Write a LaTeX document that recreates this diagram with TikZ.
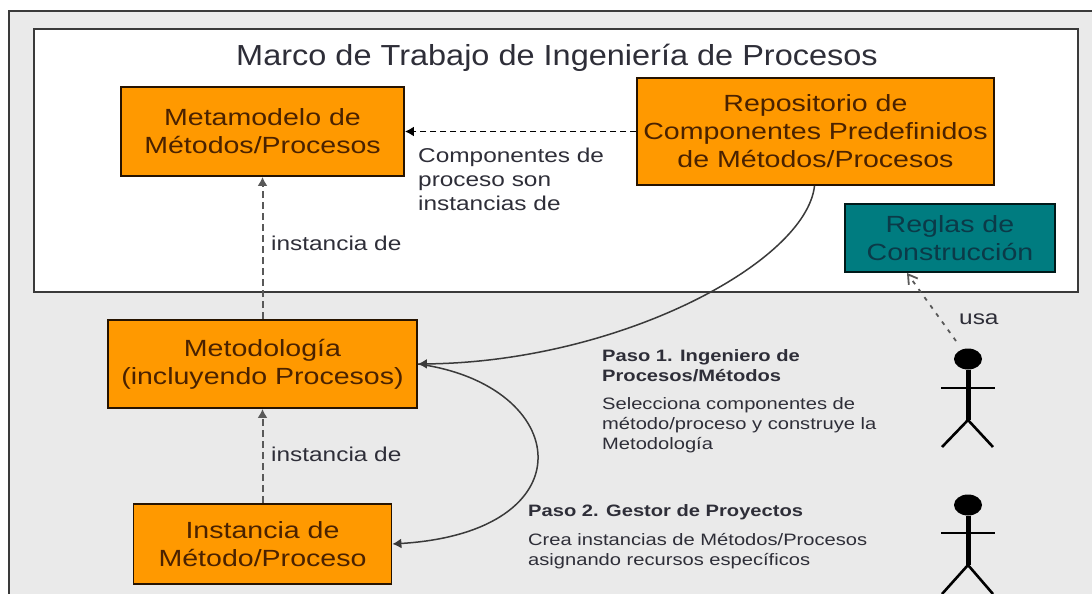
\documentclass[tikz,border=0pt]{standalone}
\usepackage{fontspec}
\setmainfont{Liberation Sans}
\newfontfamily\widefont[FakeStretch=1.22]{Liberation Sans}
\newfontfamily\titlefont[FakeStretch=1.12]{Liberation Sans}
\usetikzlibrary{arrows.meta,calc,shapes.geometric}
\definecolor{pagegray}{HTML}{EAEAEA}
\definecolor{boxorange}{HTML}{FF9900}
\definecolor{boxteal}{HTML}{007C80}
\definecolor{inkdark}{HTML}{2E2E38}
\definecolor{inkbrown}{HTML}{4A2200}
\definecolor{inkteal}{HTML}{0B3A48}
\definecolor{edgedark}{HTML}{3A3A3A}
\tikzset{
  x=1pt,y=-1pt,
  orangebox/.style={draw=black!85!orange,line width=1.8pt,fill=boxorange,text=inkbrown,align=center,inner sep=0pt,font=\widefont\fontsize{23.4}{28}\selectfont},
  tealbox/.style={draw=black!80!teal,line width=1.8pt,fill=boxteal,text=inkteal,align=center,inner sep=0pt,font=\widefont\fontsize{23.4}{28}\selectfont},
  lbl/.style={text=inkdark,align=left,anchor=north west,inner sep=0pt,font=\widefont\fontsize{20}{24}\selectfont},
  steptxt/.style={text=inkdark,align=left,anchor=north west,inner sep=0pt,font=\widefont\fontsize{16.5}{20}\selectfont},
  stephead/.style={steptxt,font=\widefont\fontsize{16.5}{20}\selectfont\bfseries},
  dashgray/.style={draw=black!65,line width=2pt,dash pattern=on 7pt off 4pt,-{Latex[length=9pt,width=10pt]}},
  dashblack/.style={draw=black,line width=1.6pt,dash pattern=on 6pt off 4pt,-{Latex[length=9pt,width=10pt]}},
  curveline/.style={draw=edgedark,line width=1.5pt,-{Latex[length=9pt,width=10pt]}},
  usaline/.style={draw=black!65,line width=1.8pt,dash pattern=on 4pt off 6pt,-{Straight Barb[length=9pt,width=11pt]}},
  stickhead/.style={ellipse,fill=black,minimum width=28pt,minimum height=21pt,inner sep=0pt},
  thicklimb/.style={draw=black,line width=5pt},
  thinlimb/.style={draw=black,line width=1.7pt},
}
\begin{document}
\begin{tikzpicture}
\useasboundingbox (0,0) rectangle (1092,594);
\clip (0,0) rectangle (1092,594);
\fill[white] (0,0) rectangle (1092,594);
\draw[fill=pagegray,draw=edgedark,line width=2pt] (9,11) rectangle (1110,620);
\draw[fill=white,draw=edgedark,line width=2pt] (34,29) rectangle (1078,292);

\node[text=inkdark,font=\titlefont\fontsize{29}{34}\selectfont,anchor=center] (titulo) at (557,58) {Marco de Trabajo de Ingeniería de Procesos};

\node[orangebox,minimum width=283pt,minimum height=89pt] (meta) at (262.5,131.5) {Metamodelo de\\Métodos/Procesos};
\node[orangebox,minimum width=357pt,minimum height=107pt] (repo) at (815.5,131.5) {Repositorio de\\Componentes Predefinidos\\de Métodos/Procesos};
\node[tealbox,minimum width=210pt,minimum height=68pt] (reglas) at (950,238) {Reglas de\\Construcción};
\node[orangebox,minimum width=309pt,minimum height=88pt] (metodo) at (262.5,364) {Metodología\\(incluyendo Procesos)};
\node[orangebox,minimum width=258pt,minimum height=80pt] (inst) at (262.5,544) {Instancia de\\Método/Proceso};

\node[lbl] (lcomp) at (418,148) {Componentes de\\proceso son\\instancias de};
\node[lbl] (lin1) at (271,236) {instancia de};
\node[lbl] (lin2) at (271,447) {instancia de};
\node[lbl] (lusa) at (959,314) {usa};

\node[stephead] (p1h) at (602,349) {Paso 1. Ingeniero de\\Procesos/Métodos};
\node[steptxt] (p1t) at (602,397) {Selecciona componentes de\\método/proceso y construye la\\Metodología};
\node[stephead] (p2h) at (528,504) {Paso 2. Gestor de Proyectos};
\node[steptxt] (p2t) at (528,533) {Crea instancias de Métodos/Procesos\\asignando recursos específicos};

% stick figures
\node[stickhead] (h1) at (968,359) {};
\coordinate (hip1) at (968,420);
\coordinate (a1l) at (941,388);
\coordinate (a1r) at (995,388);
\coordinate (f1l) at (942,447);
\coordinate (f1r) at (993,447);
\draw[thicklimb] (h1.south) -- (hip1);
\draw[thinlimb] (a1l) -- (a1r);
\draw[thinlimb,line width=2.6pt] (f1l) -- (hip1) -- (f1r);

\node[stickhead] (h2) at (968,505) {};
\coordinate (hip2) at (968,565);
\coordinate (a2l) at (941,533);
\coordinate (a2r) at (995,533);
\coordinate (f2l) at (942,594);
\coordinate (f2r) at (993,594);
\draw[thicklimb] (h2.south) -- (hip2);
\draw[thinlimb] (a2l) -- (a2r);
\draw[thinlimb,line width=2.6pt] (f2l) -- (hip2) -- (f2r);

% connectors
\draw[dashblack] (repo.west) -- (meta.east |- repo.west);
\draw[dashgray] (metodo.north) -- (meta.south);
\draw[dashgray] (inst.north) -- (metodo.south);
\coordinate (usaend) at (907,273);
\coordinate (usastart) at (956,341);
\draw[usaline] (usastart) -- (usaend);
\draw[curveline] ($(repo.south)+(-1,0)$) .. controls (806,262) and (620,362) .. (metodo.east);
\draw[curveline] (metodo.east) .. controls (572,385) and (590,532) .. (inst.east);
\end{tikzpicture}
\end{document}
